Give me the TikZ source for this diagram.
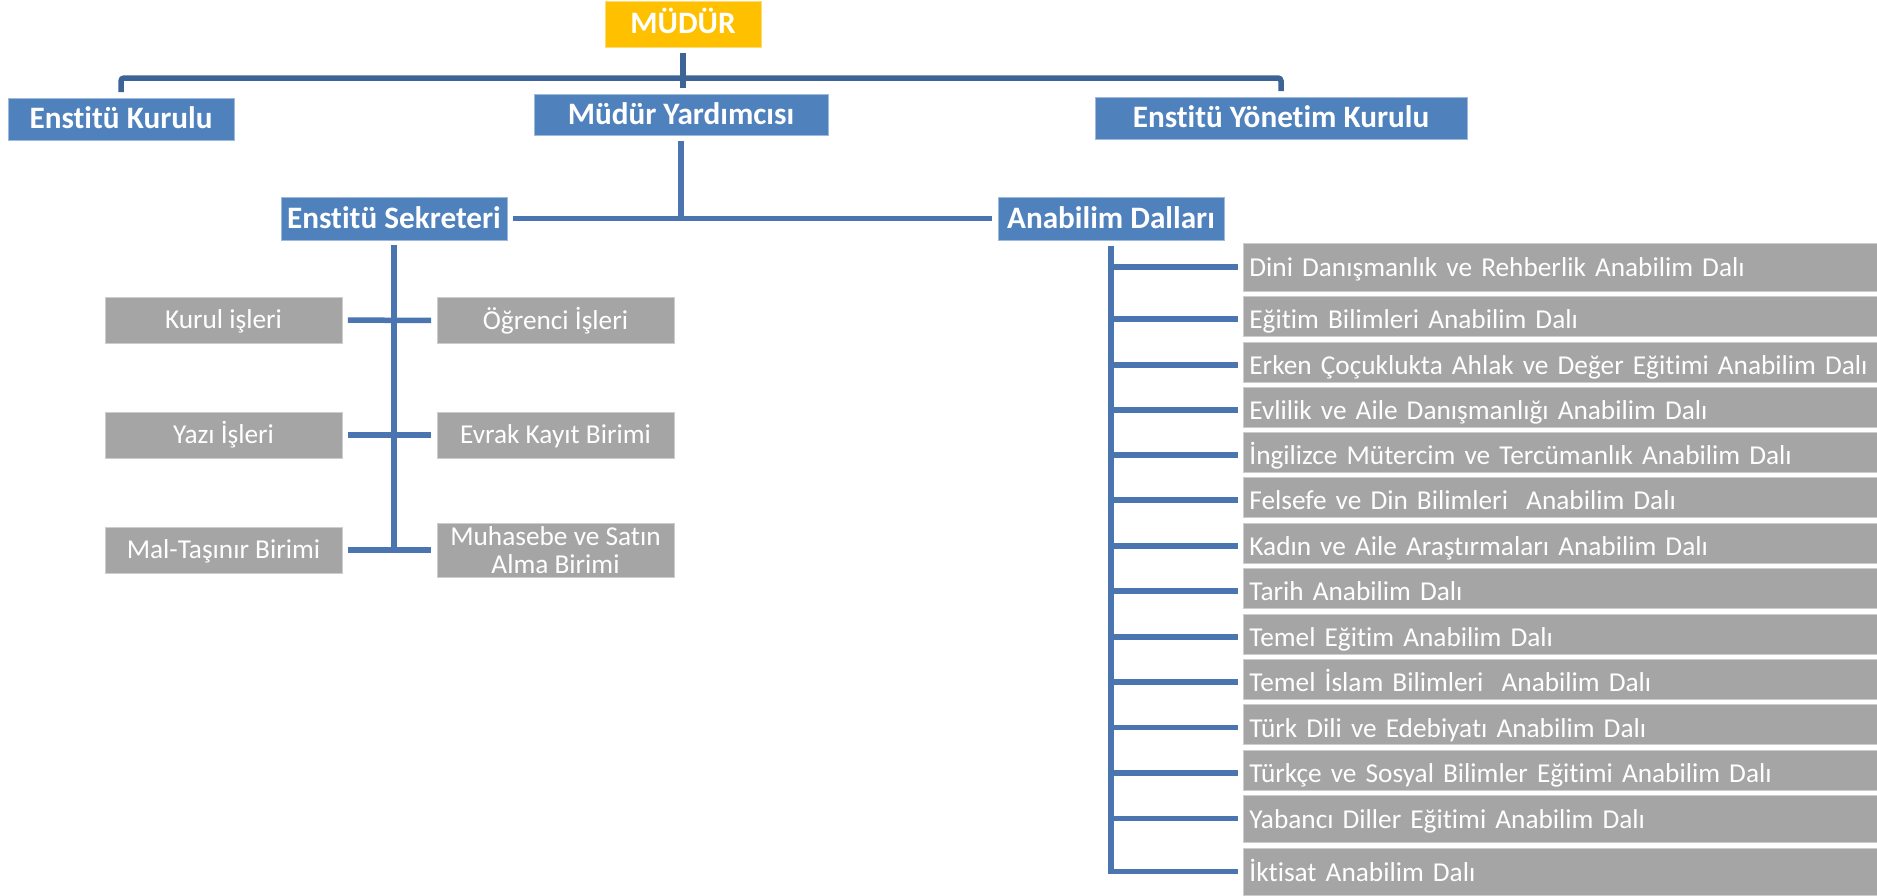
\documentclass[tikz,border=0pt]{standalone}
\usepackage{fontspec}
\setmainfont{Carlito}[Ligatures=NoCommon]
\definecolor{headblue}{HTML}{4F81BD}
\definecolor{unitgray}{HTML}{A5A5A5}
\definecolor{chiefgold}{HTML}{FFC000}
\definecolor{busblue}{HTML}{3C6496}
\definecolor{linkblue}{HTML}{4A75B0}

\begin{document}
\begin{tikzpicture}[x=1pt, y=-1pt,
        head/.style={fill=headblue, draw=headblue!55!white, line width=0.8pt, text=white, inner sep=0pt,
            font=\fontsize{31.2pt}{34pt}\selectfont\bfseries, text height=22.5pt, text depth=2.7pt},
        chief/.style={head, fill=chiefgold, draw=chiefgold!55!white},
        unit/.style={fill=unitgray, draw=unitgray!55!white, line width=0.8pt, text=white, inner sep=0pt,
            font=\fontsize{27.3pt}{28.5pt}\selectfont},
        office/.style={unit, minimum width=237pt, minimum height=46pt, text height=20pt, text depth=2.5pt},
        officetwo/.style={unit, minimum width=237pt, minimum height=54pt, align=center},
        dept/.style={unit, anchor=west, inner xsep=6pt, text width=680pt, align=left,
            minimum height=40pt, text height=28pt, text depth=2.5pt},
        tall/.style={minimum height=48pt, text height=22pt, text depth=2.5pt},
        busline/.style={draw=busblue, line width=5.5pt},
        linkline/.style={draw=linkblue, line width=5.5pt},
        gapped/.style={shorten <=5.5pt, shorten >=5.5pt}]

    \useasboundingbox (0,0) rectangle (1877,895);

    \node[chief, minimum width=156pt, minimum height=46pt] (mudur) at (683,24) {MÜDÜR};
    \node[head, minimum width=226pt, minimum height=42pt] (kurul) at (121,119) {Enstitü Kurulu};
    \node[head, minimum width=294pt, minimum height=41pt] (yard) at (681,114.5) {Müdür Yardımcısı};
    \node[head, minimum width=372pt, minimum height=42pt] (yonetim) at (1281,118) {Enstitü Yönetim Kurulu};
    \node[head, minimum width=226pt, minimum height=43pt] (sekreter) at (394,218.5) {Enstitü Sekreteri};
    \node[head, minimum width=226pt, minimum height=43pt] (dallar) at (1111,218.5) {Anabilim Dalları};

    \node[office] (kurulis) at (223.5,320) {Kurul işleri};
    \node[office] (yazi) at (223.5,435) {Yazı İşleri};
    \node[office] (mal) at (223.5,550) {Mal-Taşınır Birimi};
    \node[office] (ogrenci) at (555.5,320.5) {Öğrenci İşleri};
    \node[office] (evrak) at (555.5,435) {Evrak Kayıt Birimi};
    \node[officetwo] (muhasebe) at (555.5,550) {Muhasebe ve Satın\\Alma Birimi};

    \node[dept, tall] (d1) at (1243,267) {Dini Danışmanlık ve Rehberlik Anabilim Dalı};
    \node[dept] (d2) at (1243,316) {Eğitim Bilimleri Anabilim Dalı};
    \node[dept] (d3) at (1243,362) {Erken Çoçuklukta Ahlak ve Değer Eğitimi Anabilim Dalı};
    \node[dept] (d4) at (1243,407) {Evlilik ve Aile Danışmanlığı Anabilim Dalı};
    \node[dept] (d5) at (1243,452) {İngilizce Mütercim ve Tercümanlık Anabilim Dalı};
    \node[dept] (d6) at (1243,497) {Felsefe ve Din Bilimleri~ Anabilim Dalı};
    \node[dept] (d7) at (1243,543) {Kadın ve Aile Araştırmaları Anabilim Dalı};
    \node[dept] (d8) at (1243,588) {Tarih Anabilim Dalı};
    \node[dept] (d9) at (1243,634) {Temel Eğitim Anabilim Dalı};
    \node[dept] (d10) at (1243,679) {Temel İslam Bilimleri~ Anabilim Dalı};
    \node[dept] (d11) at (1243,724.5) {Türk Dili ve Edebiyatı Anabilim Dalı};
    \node[dept] (d12) at (1243,770) {Türkçe ve Sosyal Bilimler Eğitimi Anabilim Dalı};
    \node[dept, tall, minimum height=47pt] (d13) at (1243,818.5) {Yabancı Diller Eğitimi Anabilim Dalı};
    \node[dept, tall, minimum height=47pt] (d14) at (1243,871.5) {İktisat Anabilim Dalı};

    \coordinate (bus) at (683,78);
    \draw[busline, gapped, rounded corners=3pt] (kurul) |- (bus) -| (yonetim);
    \draw[busline, gapped] (mudur) -- (mudur |- yard.north);

    \draw[linkline, shorten <=5.5pt] (yard) -- (yard |- sekreter);
    \draw[linkline, gapped] (sekreter) -- (dallar);
    \draw[linkline, shorten <=5pt] (sekreter) -- (sekreter |- mal);
    \draw[linkline, gapped] (kurulis) -- (ogrenci);
    \draw[linkline, gapped] (yazi) -- (evrak);
    \draw[linkline, gapped] (mal) -- (muhasebe);

    \draw[linkline, gapped] (d1) -| (dallar);
    \draw[linkline, gapped] ([yshift=-3pt]d2.west) -| (dallar);
    \draw[linkline, gapped] ([yshift=-3pt]d3.west) -| (dallar);
    \draw[linkline, gapped] ([yshift=-3pt]d4.west) -| (dallar);
    \draw[linkline, gapped] ([yshift=-3pt]d5.west) -| (dallar);
    \draw[linkline, gapped] ([yshift=-3pt]d6.west) -| (dallar);
    \draw[linkline, gapped] ([yshift=-3pt]d7.west) -| (dallar);
    \draw[linkline, gapped] ([yshift=-3pt]d8.west) -| (dallar);
    \draw[linkline, gapped] ([yshift=-3pt]d9.west) -| (dallar);
    \draw[linkline, gapped] ([yshift=-3pt]d10.west) -| (dallar);
    \draw[linkline, gapped] ([yshift=-3pt]d11.west) -| (dallar);
    \draw[linkline, gapped] ([yshift=-3pt]d12.west) -| (dallar);
    \draw[linkline, gapped] (d13) -| (dallar);
    \draw[linkline, gapped] (d14) -| (dallar);

\end{tikzpicture}
\end{document}
